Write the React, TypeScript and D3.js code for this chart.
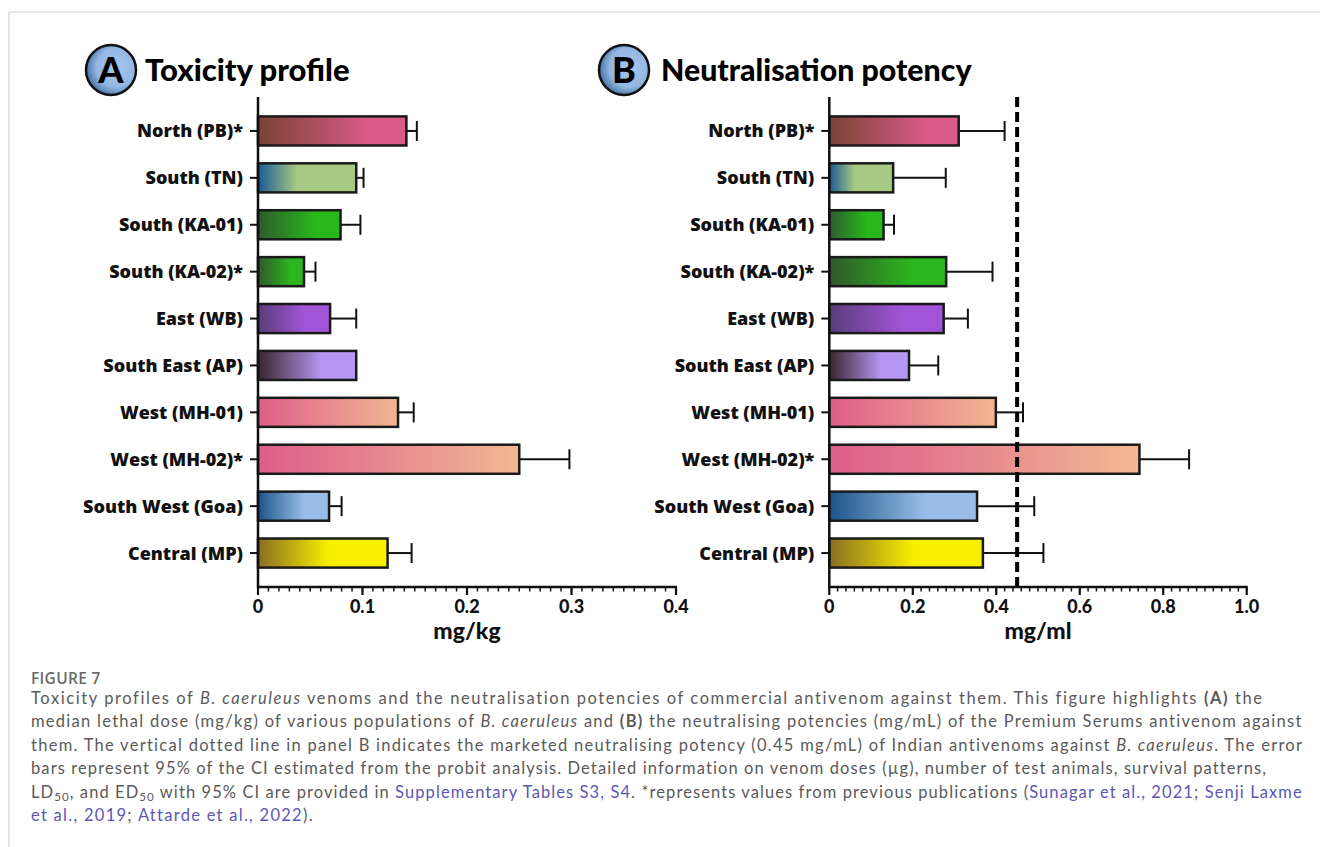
import React, { useLayoutEffect, useRef } from "react";
import * as d3 from "d3";

// Venom populations (top to bottom)
const categories = [
  "North (PB)*",
  "South (TN)",
  "South (KA-01)",
  "South (KA-02)*",
  "East (WB)",
  "South East (AP)",
  "West (MH-01)",
  "West (MH-02)*",
  "South West (Goa)",
  "Central (MP)",
];

// Median lethal dose, mg/kg, and upper 95% CI limit
const ld50 = [0.142, 0.094, 0.079, 0.044, 0.069, 0.094, 0.134, 0.25, 0.068, 0.124];
const ld50Upper = [0.152, 0.101, 0.098, 0.055, 0.094, null, 0.149, 0.298, 0.08, 0.147];

// Neutralisation potency, mg/ml, and upper 95% CI limit
const potency = [0.31, 0.153, 0.13, 0.28, 0.274, 0.191, 0.399, 0.743, 0.354, 0.368];
const potencyUpper = [0.42, 0.279, 0.155, 0.391, 0.332, 0.261, 0.464, 0.862, 0.491, 0.513];

// Marketed neutralising potency
const marketedPotency = 0.45;

// Tick labels
const ticksA = [0, 0.1, 0.2, 0.3, 0.4];
const ticksB = [0, 0.2, 0.4, 0.6, 0.8, 1.0];

// Bar fill gradients: [dark start, light end, offset where end colour is reached]
const barGradients: [string, string, number][] = [
  ["#7a4334", "#da5a88", 0.75],
  ["#1b5a96", "#a6c983", 0.4],
  ["#2f5a2c", "#27b91b", 0.7],
  ["#30572c", "#2bb51e", 0.7],
  ["#5a3c7a", "#a255d8", 0.65],
  ["#38262c", "#b596f2", 0.65],
  ["#de5e89", "#f2b692", 1.0],
  ["#dc5d8a", "#f2b892", 1.0],
  ["#1b5488", "#99bde8", 0.65],
  ["#8a6d22", "#f8f000", 0.55],
];

const TITLE_FONT = "Lato, 'Open Sans', sans-serif";
const LABEL_FONT = "'Open Sans', Lato, sans-serif";
const CAPTION_FONT = "Lato, 'Open Sans', sans-serif";

const yScale = d3
  .scaleBand<string>()
  .domain(categories)
  .range([107.5, 576.5])
  .paddingInner(0.38)
  .paddingOuter(0.19);

const AXIS_Y = 587;
const AXIS_TOP = 97;

type PanelProps = {
  id: string;
  letter: string;
  title: string;
  titleSize: number;
  badgeX: number;
  titleX: number;
  x0: number;
  x1: number;
  domainMax: number;
  ticks: number[];
  minorStep: number;
  values: number[];
  upper: (number | null)[];
  unit: string;
  refLine?: number;
  tickFormat: (v: number) => string;
};

function Panel(p: PanelProps) {
  const x = d3.scaleLinear().domain([0, p.domainMax]).range([p.x0, p.x1]);
  const nMinor = Math.round(p.domainMax / p.minorStep);
  const minor = d3.range(nMinor + 1).map((i) => i * p.minorStep);
  const bh = yScale.bandwidth();
  return (
    <g>
      <defs>
        <radialGradient id={`badge-${p.id}`} cx="0.6" cy="0.45" r="0.65">
          <stop offset="0" stopColor="#a6c5ec" />
          <stop offset="0.6" stopColor="#94b7e3" />
          <stop offset="1" stopColor="#34639a" />
        </radialGradient>
        {barGradients.map((g, i) => (
          <linearGradient key={i} id={`bar-${p.id}-${i}`} x1="0" x2="1" y1="0" y2="0">
            <stop offset="0" stopColor={g[0]} />
            <stop offset={g[2]} stopColor={g[1]} />
            <stop offset="1" stopColor={g[1]} />
          </linearGradient>
        ))}
      </defs>

      {/* panel badge and title */}
      <circle cx={p.badgeX} cy={70} r={25} fill={`url(#badge-${p.id})`} stroke="#111" strokeWidth={2.5} />
      <text
        x={p.badgeX}
        y={83}
        textAnchor="middle"
        fontFamily={TITLE_FONT}
        fontWeight={900}
        fontSize={36}
        fill="#000"
      >
        {p.letter}
      </text>
      <text x={p.titleX} y={81} fontFamily={TITLE_FONT} fontWeight={900} fontSize={p.titleSize} fill="#000">
        {p.title}
      </text>

      {/* bars */}
      {categories.map((c, i) => {
        const y = yScale(c)!;
        const cy = y + bh / 2;
        const u = p.upper[i];
        return (
          <g key={c}>
            {u != null && (
              <g stroke="#111" strokeWidth={2}>
                <line x1={x(p.values[i])} x2={x(u)} y1={cy} y2={cy} />
                <line x1={x(u)} x2={x(u)} y1={cy - 10} y2={cy + 10} />
              </g>
            )}
            <rect
              x={x(0)}
              y={y}
              width={x(p.values[i]) - x(0)}
              height={bh}
              fill={`url(#bar-${p.id}-${i})`}
              stroke="#1a1a1a"
              strokeWidth={2.5}
            />
            <line x1={p.x0 - 8} x2={p.x0} y1={cy} y2={cy} stroke="#111" strokeWidth={2} />
            <text
              x={p.x0 - 15}
              y={cy}
              dy="0.36em"
              textAnchor="end"
              fontFamily={LABEL_FONT}
              fontWeight={800}
              fontSize={18}
              fill="#111"
            >
              {c}
            </text>
          </g>
        );
      })}

      {/* reference line */}
      {p.refLine != null && (
        <line
          x1={x(p.refLine)}
          x2={x(p.refLine)}
          y1={AXIS_TOP}
          y2={AXIS_Y}
          stroke="#000"
          strokeWidth={4}
          strokeDasharray="10 5"
        />
      )}

      {/* axes */}
      <line x1={p.x0} x2={p.x0} y1={AXIS_TOP} y2={AXIS_Y + 1} stroke="#111" strokeWidth={2.5} />
      <line x1={p.x0 - 1} x2={p.x1 + 1} y1={AXIS_Y} y2={AXIS_Y} stroke="#111" strokeWidth={2.5} />
      {minor.map((v, i) => (
        <line key={i} x1={x(v)} x2={x(v)} y1={AXIS_Y} y2={AXIS_Y + 4.5} stroke="#111" strokeWidth={1.5} />
      ))}
      {p.ticks.map((v) => (
        <g key={v}>
          <line x1={x(v)} x2={x(v)} y1={AXIS_Y} y2={AXIS_Y + 8} stroke="#111" strokeWidth={2.2} />
          <text
            x={x(v)}
            y={613}
            textAnchor="middle"
            fontFamily={TITLE_FONT}
            fontWeight={900}
            fontSize={18}
            fill="#111"
          >
            {p.tickFormat(v)}
          </text>
        </g>
      ))}
      <text
        x={(p.x0 + p.x1) / 2}
        y={639}
        textAnchor="middle"
        fontFamily={TITLE_FONT}
        fontWeight={900}
        fontSize={23}
        fill="#111"
      >
        {p.unit}
      </text>
    </g>
  );
}

const LINK = "#5b57b5";
const TEXT = "#5a5a5a";
const CAPTION_X = 31;
// Right edge of each caption line (null: keep the spacing of the second line)
const captionLineEnds: (number | null)[] = [1262, 1302, 1302, 1266, 1302, null];

export default function App() {
  const fmt = (v: number) => (v === 0 ? "0" : d3.format(".1f")(v));
  const captionRef = useRef<SVGGElement>(null);

  // Fit each caption line to its right edge through letter spacing
  useLayoutEffect(() => {
    const g = captionRef.current;
    if (!g) return;
    const lines = Array.from(g.querySelectorAll(":scope > text")) as SVGTextElement[];
    lines.forEach((t) => t.setAttribute("letter-spacing", "0"));
    const spacing = lines.map((t, i) => {
      const end = captionLineEnds[i];
      if (end == null) return null;
      const natural = t.getComputedTextLength();
      const n = (t.textContent || "").length;
      return (end - CAPTION_X - natural) / Math.max(1, n - 1);
    });
    lines.forEach((t, i) => {
      const ls = spacing[i] ?? spacing[1] ?? 0;
      t.setAttribute("letter-spacing", String(ls));
    });
  }, []);

  const cap = { x: CAPTION_X, fontFamily: CAPTION_FONT, fontSize: 16.5, fill: TEXT };

  return (
    <svg
      width={1320}
      height={847}
      viewBox="0 0 1320 847"
      style={{ position: "absolute", left: 0, top: 0, background: "#fff" }}
    >
      <rect width={1320} height={847} fill="#fff" />
      {/* page frame */}
      <line x1={9} x2={1320} y1={12} y2={12} stroke="#d4d4d4" strokeWidth={1.2} />
      <line x1={9} x2={9} y1={12} y2={847} stroke="#d4d4d4" strokeWidth={1.2} />

      <Panel
        id="a"
        letter="A"
        title="Toxicity profile"
        titleSize={31}
        badgeX={111}
        titleX={145}
        x0={258}
        x1={676}
        domainMax={0.4}
        ticks={ticksA}
        minorStep={0.01}
        values={ld50}
        upper={ld50Upper}
        unit="mg/kg"
        tickFormat={fmt}
      />
      <Panel
        id="b"
        letter="B"
        title="Neutralisation potency"
        titleSize={30.3}
        badgeX={624}
        titleX={661}
        x0={829.3}
        x1={1246.7}
        domainMax={1.0}
        ticks={ticksB}
        minorStep={0.02}
        values={potency}
        upper={potencyUpper}
        unit="mg/ml"
        refLine={marketedPotency}
        tickFormat={fmt}
      />

      {/* caption */}
      <text
        x={CAPTION_X}
        y={684}
        fontFamily="'Open Sans', sans-serif"
        fontSize={15.5}
        fontWeight={600}
        letterSpacing={0.3}
        fill="#6a6a6a"
      >
        FIGURE 7
      </text>
      <g ref={captionRef}>
        <text {...cap} y={703.5}>
          Toxicity profiles of <tspan fontStyle="italic">B. caeruleus</tspan> venoms and the neutralisation
          potencies of commercial antivenom against them. This figure highlights{" "}
          <tspan fontWeight={700}>(A)</tspan> the
        </text>
        <text {...cap} y={727}>
          median lethal dose (mg/kg) of various populations of <tspan fontStyle="italic">B. caeruleus</tspan>{" "}
          and <tspan fontWeight={700}>(B)</tspan> the neutralising potencies (mg/mL) of the Premium Serums
          antivenom against
        </text>
        <text {...cap} y={750.5}>
          them. The vertical dotted line in panel B indicates the marketed neutralising potency (0.45 mg/mL) of
          Indian antivenoms against <tspan fontStyle="italic">B. caeruleus</tspan>. The error
        </text>
        <text {...cap} y={774}>
          bars represent 95% of the CI estimated from the probit analysis. Detailed information on venom doses
          (µg), number of test animals, survival patterns,
        </text>
        <text {...cap} y={797.5}>
          LD<tspan fontSize={11.5} dy={3}>50</tspan>
          <tspan dy={-3}>, and ED</tspan>
          <tspan fontSize={11.5} dy={3}>50</tspan>
          <tspan dy={-3}> with 95% CI are provided in </tspan>
          <tspan fill={LINK}>Supplementary Tables S3, S4</tspan>. *represents values from previous publications
          (<tspan fill={LINK}>Sunagar et al., 2021</tspan>; <tspan fill={LINK}>Senji Laxme</tspan>
        </text>
        <text {...cap} y={821}>
          <tspan fill={LINK}>et al., 2019</tspan>; <tspan fill={LINK}>Attarde et al., 2022</tspan>).
        </text>
      </g>
    </svg>
  );
}
